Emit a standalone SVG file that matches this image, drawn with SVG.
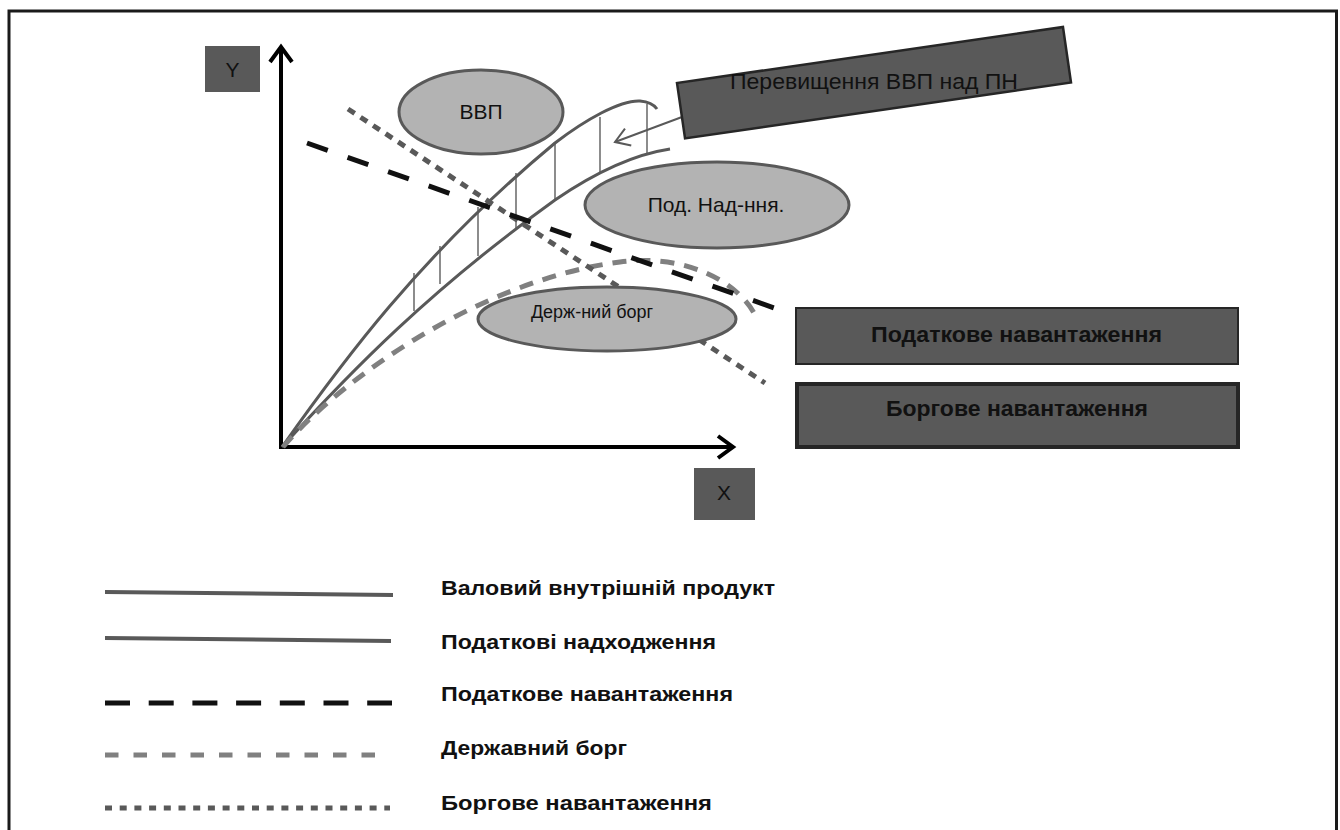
<svg xmlns="http://www.w3.org/2000/svg" width="1340" height="830" viewBox="0 0 1340 830">
<style>
text{font-family:"Liberation Sans",Arial,sans-serif;fill:#111}
.b{font-weight:bold}
.ell{fill:#b3b3b3;stroke:#595959;stroke-width:3}
.dbox{fill:#595959}
.curve{fill:none;stroke:#595959;stroke-width:3}
.lg{fill:none;stroke:#595959;stroke-width:4}
.hatch{stroke:#404040;stroke-width:1.2}
.tax{fill:none;stroke:#111;stroke-width:5}
.debt{fill:none;stroke:#808080;stroke-width:5}
.dot{fill:none;stroke:#595959;stroke-width:5}
.axis{fill:none;stroke:#000;stroke-width:4}
</style>
<defs>
<marker id="axArrow" markerUnits="userSpaceOnUse" markerWidth="24" markerHeight="28" refX="16" refY="12" orient="auto" overflow="visible">
<path d="M1,1 L16,12 L1,23" fill="none" stroke="#000" stroke-width="4"/>
</marker>
<marker id="smArrow" markerUnits="userSpaceOnUse" markerWidth="20" markerHeight="20" refX="16" refY="10" orient="auto" overflow="visible">
<path d="M2,1 L16,10 L2,19" fill="none" stroke="#595959" stroke-width="2"/>
</marker>
</defs>
<rect width="1340" height="830" fill="#fff"/>
<rect x="9" y="11" width="1327.5" height="900" fill="none" stroke="#1a1a1a" stroke-width="3"/>

<g id="axes">
<line class="axis" x1="281" y1="449" x2="281" y2="47" marker-end="url(#axArrow)"/>
<line class="axis" x1="279" y1="447" x2="733" y2="447" marker-end="url(#axArrow)"/>
</g>

<g id="axis-y-label">
<rect class="dbox" x="205" y="46" width="55" height="46"/>
<text x="232.5" y="77" font-size="21" text-anchor="middle">Y</text>
</g>
<g id="axis-x-label">
<rect class="dbox" x="694" y="468" width="61" height="52"/>
<text x="724" y="500" font-size="21" text-anchor="middle">X</text>
</g>

<g id="connectors">
<g id="hatches">
<line class="hatch" x1="414" y1="273" x2="414" y2="311"/>
<line class="hatch" x1="440" y1="246" x2="440" y2="284"/>
<line class="hatch" x1="478" y1="207" x2="478" y2="256"/>
<line class="hatch" x1="516" y1="173" x2="516" y2="228"/>
<line class="hatch" x1="555" y1="143" x2="555" y2="200"/>
<line class="hatch" x1="600" y1="117" x2="600" y2="174"/>
<line class="hatch" x1="647" y1="104" x2="647" y2="155"/>
</g>
<path id="gdp-curve" class="curve" d="M282,447 C340,365 420,255 555,143 C585,120 620,100 640,101 Q652,102 657,109"/>
<path id="tax-revenue-curve" class="curve" d="M282,447 C350,372 430,290 555,200 C590,176 630,155 670,149"/>
<path id="debt-curve" class="debt" stroke-dasharray="14 10" d="M283,447 C340,380 480,280 620,262 C690,253 740,285 755,315"/>
<line id="debt-burden-line" class="dot" stroke-dasharray="8 7" x1="348" y1="109" x2="765" y2="383"/>
<line id="tax-burden-line" class="tax" stroke-dasharray="22 21" x1="307" y1="143" x2="780" y2="310"/>
<line id="excess-arrow" x1="682" y1="117" x2="615" y2="142" stroke="#595959" stroke-width="2" marker-end="url(#smArrow)"/>
</g>

<g id="node-vvp">
<ellipse class="ell" cx="481" cy="112" rx="82" ry="42"/>
<text x="481" y="119" font-size="21" text-anchor="middle">ВВП</text>
</g>
<g id="node-pod-nad">
<ellipse class="ell" cx="717" cy="205" rx="132" ry="43"/>
<text x="716" y="212" font-size="21" text-anchor="middle">Под. Над-ння.</text>
</g>
<g id="node-derzh-borg">
<ellipse class="ell" cx="607" cy="319" rx="129" ry="32"/>
<text x="592" y="318" font-size="18" text-anchor="middle">Держ-ний борг</text>
</g>
<g id="node-excess">
<rect x="677" y="83" width="390" height="56" transform="rotate(-8.25 677 83)" fill="#595959" stroke="#262626" stroke-width="2.5"/>
<text x="730" y="89" font-size="22" textLength="288" lengthAdjust="spacingAndGlyphs">Перевищення ВВП над ПН</text>
</g>
<g id="node-tax-burden">
<rect class="dbox" x="796" y="308" width="442" height="56" stroke="#262626" stroke-width="2"/>
<text class="b" x="871" y="342" font-size="22" textLength="291" lengthAdjust="spacingAndGlyphs">Податкове навантаження</text>
</g>
<g id="node-debt-burden">
<rect class="dbox" x="797" y="384" width="441" height="63" stroke="#262626" stroke-width="4"/>
<text class="b" x="886" y="416" font-size="22" textLength="262" lengthAdjust="spacingAndGlyphs">Боргове навантаження</text>
</g>

<g id="legend">
<line class="lg" x1="105" y1="592" x2="393" y2="595"/>
<text class="b" x="441" y="595" font-size="21" textLength="334" lengthAdjust="spacingAndGlyphs">Валовий внутрішній продукт</text>
<line class="lg" x1="105" y1="638" x2="391" y2="641"/>
<text class="b" x="441" y="649" font-size="21" textLength="275" lengthAdjust="spacingAndGlyphs">Податкові надходження</text>
<line class="tax" x1="105" y1="703" x2="392" y2="703" stroke-dasharray="25 18.7"/>
<text class="b" x="441" y="701" font-size="21" textLength="292" lengthAdjust="spacingAndGlyphs">Податкове навантаження</text>
<line class="debt" x1="105" y1="755" x2="385" y2="755" stroke-dasharray="13.5 15"/>
<text class="b" x="441" y="755" font-size="21" textLength="186" lengthAdjust="spacingAndGlyphs">Державний борг</text>
<line class="dot" x1="105" y1="808" x2="390" y2="808" stroke-dasharray="7 7.7"/>
<text class="b" x="441" y="810" font-size="21" textLength="271" lengthAdjust="spacingAndGlyphs">Боргове навантаження</text>
</g>
</svg>
